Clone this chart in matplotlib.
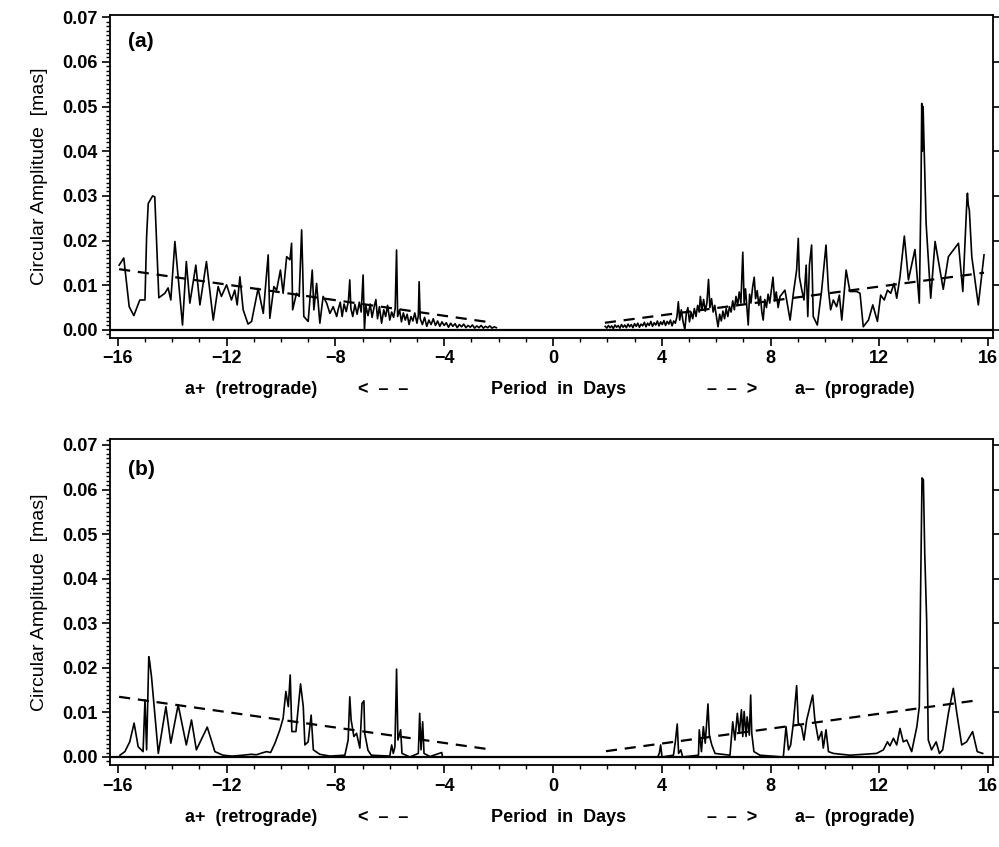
import numpy as np
import matplotlib.pyplot as plt
from matplotlib.ticker import MultipleLocator

plt.rcParams['font.family'] = ['Liberation Sans', 'DejaVu Sans']
plt.rcParams['font.weight'] = 'bold'

# (period [days], circular amplitude [mas]) -- panel (a), retrograde side
a_retro = [(-15.95, 0.0145), (-15.78, 0.0161), (-15.58, 0.0052), (-15.41, 0.0032),
           (-15.19, 0.0067), (-15.00, 0.0067), (-14.94, 0.0209), (-14.88, 0.0283),
           (-14.72, 0.0300), (-14.64, 0.0298), (-14.58, 0.0209), (-14.49, 0.0072),
           (-14.27, 0.0082), (-14.15, 0.0094), (-14.05, 0.0067), (-13.90, 0.0198),
           (-13.62, 0.0011), (-13.48, 0.0153), (-13.35, 0.0060), (-13.13, 0.0145),
           (-12.98, 0.0056), (-12.74, 0.0153), (-12.49, 0.0022), (-12.31, 0.0097),
           (-12.19, 0.0075), (-12.00, 0.0101), (-11.82, 0.0067), (-11.70, 0.0089),
           (-11.61, 0.0056), (-11.51, 0.0119), (-11.39, 0.0045), (-11.21, 0.0013),
           (-11.08, 0.0019), (-10.84, 0.0093), (-10.65, 0.0037), (-10.47, 0.0168),
           (-10.41, 0.0026), (-10.26, 0.0097), (-10.16, 0.0089), (-10.02, 0.0134),
           (-9.92, 0.0082), (-9.79, 0.0164), (-9.67, 0.0157), (-9.61, 0.0194),
           (-9.57, 0.0045), (-9.43, 0.0082), (-9.33, 0.0075), (-9.24, 0.0224),
           (-9.20, 0.0134), (-9.16, 0.0030), (-9.00, 0.0019), (-8.90, 0.0097),
           (-8.85, 0.0134), (-8.79, 0.0045), (-8.69, 0.0104), (-8.57, 0.0015),
           (-8.45, 0.0075), (-8.32, 0.0060), (-8.20, 0.0037), (-8.08, 0.0052),
           (-7.95, 0.0030), (-7.90, 0.0045), (-7.82, 0.0062), (-7.75, 0.0030),
           (-7.68, 0.0058), (-7.60, 0.0041), (-7.52, 0.0065), (-7.47, 0.0112),
           (-7.43, 0.0048), (-7.36, 0.0030), (-7.28, 0.0057), (-7.20, 0.0035),
           (-7.12, 0.0062), (-7.05, 0.0040), (-6.98, 0.0123), (-6.93, 0.0000),
           (-6.88, 0.0055), (-6.80, 0.0032), (-6.72, 0.0058), (-6.65, 0.0028),
           (-6.58, 0.0050), (-6.51, 0.0068), (-6.45, 0.0025), (-6.38, 0.0052),
           (-6.30, 0.0015), (-6.22, 0.0045), (-6.15, 0.0030), (-6.08, 0.0055),
           (-6.00, 0.0022), (-5.93, 0.0040), (-5.86, 0.0028), (-5.80, 0.0048),
           (-5.75, 0.0179), (-5.71, 0.0030), (-5.64, 0.0045), (-5.57, 0.0018),
           (-5.50, 0.0038), (-5.43, 0.0022), (-5.36, 0.0035), (-5.29, 0.0012),
           (-5.22, 0.0030), (-5.15, 0.0020), (-5.08, 0.0038), (-5.00, 0.0015),
           (-4.95, 0.0032), (-4.92, 0.0108), (-4.88, 0.0025), (-4.80, 0.0012),
           (-4.72, 0.0028), (-4.64, 0.0008), (-4.56, 0.0022), (-4.48, 0.0012),
           (-4.40, 0.0025), (-4.32, 0.0010), (-4.24, 0.0020), (-4.16, 0.0008),
           (-4.08, 0.0018), (-4.00, 0.0010), (-3.92, 0.0016), (-3.84, 0.0006),
           (-3.76, 0.0015), (-3.68, 0.0008), (-3.60, 0.0014), (-3.52, 0.0005),
           (-3.44, 0.0012), (-3.36, 0.0007), (-3.28, 0.0013), (-3.20, 0.0005),
           (-3.12, 0.0010), (-3.04, 0.0006), (-2.96, 0.0011), (-2.88, 0.0004),
           (-2.80, 0.0009), (-2.72, 0.0005), (-2.64, 0.0010), (-2.56, 0.0004),
           (-2.48, 0.0008), (-2.40, 0.0005), (-2.32, 0.0009), (-2.24, 0.0004),
           (-2.16, 0.0007), (-2.08, 0.0005)]

# panel (a), prograde side
a_pro = [(1.92, 0.0008), (1.98, 0.0004), (2.04, 0.0010), (2.10, 0.0005), (2.16, 0.0009),
         (2.22, 0.0003), (2.28, 0.0011), (2.34, 0.0006), (2.40, 0.0010), (2.46, 0.0004),
         (2.52, 0.0012), (2.58, 0.0006), (2.64, 0.0011), (2.70, 0.0005), (2.76, 0.0013),
         (2.82, 0.0007), (2.88, 0.0012), (2.94, 0.0005), (3.00, 0.0014), (3.06, 0.0008),
         (3.12, 0.0015), (3.18, 0.0006), (3.24, 0.0013), (3.30, 0.0009), (3.36, 0.0017),
         (3.42, 0.0007), (3.48, 0.0015), (3.54, 0.0010), (3.60, 0.0019), (3.66, 0.0008),
         (3.72, 0.0016), (3.78, 0.0011), (3.84, 0.0020), (3.90, 0.0009), (3.96, 0.0018),
         (4.02, 0.0012), (4.08, 0.0021), (4.14, 0.0010), (4.20, 0.0019), (4.26, 0.0013),
         (4.32, 0.0022), (4.38, 0.0009), (4.44, 0.0020), (4.50, 0.0015), (4.56, 0.0030),
         (4.61, 0.0063), (4.66, 0.0022), (4.72, 0.0045), (4.78, 0.0020), (4.85, 0.0000),
         (4.90, 0.0035), (4.96, 0.0050), (5.02, 0.0018), (5.08, 0.0040), (5.14, 0.0025),
         (5.20, 0.0048), (5.26, 0.0030), (5.32, 0.0055), (5.38, 0.0040), (5.42, 0.0075),
         (5.48, 0.0045), (5.54, 0.0068), (5.60, 0.0042), (5.66, 0.0060), (5.72, 0.0113),
         (5.77, 0.0050), (5.83, 0.0070), (5.89, 0.0040), (5.95, 0.0055), (6.01, 0.0030),
         (6.07, 0.0007), (6.13, 0.0035), (6.19, 0.0020), (6.25, 0.0042), (6.31, 0.0025),
         (6.37, 0.0048), (6.43, 0.0030), (6.49, 0.0052), (6.55, 0.0040), (6.61, 0.0065),
         (6.67, 0.0045), (6.73, 0.0075), (6.79, 0.0055), (6.85, 0.0085), (6.91, 0.0060),
         (6.98, 0.0174), (7.03, 0.0060), (7.08, 0.0092), (7.13, 0.0050), (7.18, 0.0011),
         (7.23, 0.0080), (7.28, 0.0060), (7.34, 0.0095), (7.40, 0.0118), (7.45, 0.0070),
         (7.51, 0.0088), (7.57, 0.0055), (7.63, 0.0075), (7.68, 0.0040), (7.73, 0.0022),
         (7.79, 0.0068), (7.85, 0.0050), (7.91, 0.0080), (7.97, 0.0060), (8.03, 0.0090),
         (8.09, 0.0118), (8.15, 0.0065), (8.21, 0.0085), (8.28, 0.0050), (8.35, 0.0075),
         (8.53, 0.0089), (8.72, 0.0022), (8.84, 0.0082), (8.96, 0.0134), (9.02, 0.0205),
         (9.06, 0.0119), (9.15, 0.0089), (9.23, 0.0067), (9.31, 0.0145), (9.37, 0.0030),
         (9.43, 0.0145), (9.51, 0.0190), (9.57, 0.0030), (9.72, 0.0011), (9.88, 0.0089),
         (10.04, 0.0190), (10.13, 0.0089), (10.21, 0.0045), (10.31, 0.0067), (10.43, 0.0052),
         (10.53, 0.0078), (10.62, 0.0022), (10.78, 0.0134), (10.92, 0.0086), (11.17, 0.0086),
         (11.29, 0.0082), (11.41, 0.0007), (11.60, 0.0022), (11.76, 0.0056), (11.93, 0.0019),
         (12.05, 0.0078), (12.18, 0.0067), (12.30, 0.0089), (12.42, 0.0082), (12.54, 0.0104),
         (12.64, 0.0071), (12.76, 0.0119), (12.92, 0.0210), (13.07, 0.0112), (13.31, 0.0180),
         (13.47, 0.0060), (13.53, 0.0300), (13.56, 0.0507), (13.58, 0.0400), (13.61, 0.0500),
         (13.64, 0.0425), (13.72, 0.0239), (13.89, 0.0071), (14.05, 0.0198), (14.35, 0.0091),
         (14.54, 0.0164), (14.91, 0.0194), (15.07, 0.0086), (15.22, 0.0290), (15.24, 0.0306),
         (15.27, 0.0280), (15.31, 0.0268), (15.40, 0.0164), (15.64, 0.0056), (15.85, 0.0168)]

# panel (b), retrograde side
b_retro = [(-15.92, 0.0004), (-15.74, 0.0012), (-15.56, 0.0034), (-15.40, 0.0076),
           (-15.25, 0.0023), (-15.07, 0.0012), (-15.00, 0.0128), (-14.94, 0.0016),
           (-14.86, 0.0225), (-14.83, 0.0215), (-14.76, 0.0180), (-14.51, 0.0008),
           (-14.23, 0.0113), (-14.05, 0.0031), (-13.78, 0.0117), (-13.48, 0.0027),
           (-13.29, 0.0083), (-13.11, 0.0016), (-12.71, 0.0067), (-12.43, 0.0012),
           (-12.13, 0.0004), (-11.80, 0.0002), (-11.40, 0.0004), (-11.10, 0.0006),
           (-10.90, 0.0005), (-10.70, 0.0009), (-10.53, 0.0012), (-10.38, 0.0010),
           (-10.22, 0.0031), (-10.04, 0.0061), (-9.92, 0.0087), (-9.82, 0.0147),
           (-9.73, 0.0113), (-9.66, 0.0184), (-9.60, 0.0057), (-9.45, 0.0057),
           (-9.28, 0.0164), (-9.18, 0.0113), (-9.12, 0.0027), (-9.00, 0.0034),
           (-8.89, 0.0094), (-8.81, 0.0016), (-8.57, 0.0006), (-8.20, 0.0002),
           (-7.65, 0.0004), (-7.53, 0.0038), (-7.47, 0.0135), (-7.42, 0.0083),
           (-7.32, 0.0046), (-7.22, 0.0053), (-7.10, 0.0020), (-7.02, 0.0120),
           (-6.95, 0.0126), (-6.92, 0.0053), (-6.80, 0.0015), (-6.68, 0.0004),
           (-6.00, 0.0002), (-5.93, 0.0027), (-5.87, 0.0008), (-5.81, 0.0023),
           (-5.75, 0.0197), (-5.70, 0.0038), (-5.60, 0.0061), (-5.55, 0.0008),
           (-5.26, 0.0000), (-4.95, 0.0008), (-4.90, 0.0098), (-4.85, 0.0016),
           (-4.79, 0.0079), (-4.74, 0.0008), (-4.52, 0.0001), (-4.09, 0.0010),
           (-4.06, 0.0000), (-2.00, 0.0000)]

# panel (b), prograde side
b_pro = [(2.00, 0.0000), (3.85, 0.0000), (3.91, 0.0008), (3.96, 0.0027), (4.01, 0.0000),
         (4.43, 0.0004), (4.50, 0.0034), (4.57, 0.0074), (4.62, 0.0008), (4.70, 0.0016),
         (4.77, 0.0000), (5.35, 0.0004), (5.38, 0.0061), (5.46, 0.0012), (5.53, 0.0068),
         (5.60, 0.0031), (5.70, 0.0119), (5.75, 0.0049), (5.84, 0.0027), (5.96, 0.0008),
         (6.51, 0.0004), (6.61, 0.0079), (6.69, 0.0038), (6.78, 0.0098), (6.85, 0.0053),
         (6.93, 0.0106), (6.98, 0.0046), (7.03, 0.0102), (7.10, 0.0046), (7.14, 0.0090),
         (7.22, 0.0049), (7.27, 0.0139), (7.31, 0.0053), (7.39, 0.0012), (7.61, 0.0004),
         (8.47, 0.0000), (8.57, 0.0068), (8.66, 0.0016), (8.74, 0.0027), (8.84, 0.0076),
         (8.96, 0.0160), (9.02, 0.0076), (9.14, 0.0068), (9.23, 0.0038), (9.33, 0.0083),
         (9.55, 0.0139), (9.63, 0.0083), (9.76, 0.0038), (9.88, 0.0057), (9.94, 0.0020),
         (10.04, 0.0061), (10.13, 0.0012), (10.31, 0.0008), (10.92, 0.0004), (11.90, 0.0008),
         (12.15, 0.0016), (12.30, 0.0034), (12.39, 0.0025), (12.52, 0.0042), (12.64, 0.0027),
         (12.76, 0.0064), (12.88, 0.0034), (13.01, 0.0038), (13.19, 0.0012), (13.38, 0.0068),
         (13.47, 0.0113), (13.52, 0.0382), (13.57, 0.0626), (13.62, 0.0622), (13.67, 0.0457),
         (13.74, 0.0308), (13.80, 0.0038), (13.92, 0.0016), (14.09, 0.0034), (14.21, 0.0008),
         (14.33, 0.0016), (14.54, 0.0098), (14.72, 0.0154), (14.85, 0.0098), (15.03, 0.0027),
         (15.21, 0.0034), (15.43, 0.0057), (15.60, 0.0012), (15.80, 0.0008)]

# linear trend lines (endpoints)
a_trend_retro = [(-15.95, 0.0136), (-2.20, 0.0016)]
a_trend_pro = [(1.91, 0.0016), (15.85, 0.0128)]
b_trend_retro = [(-15.95, 0.0135), (-2.20, 0.0016)]
b_trend_pro = [(1.95, 0.0013), (15.70, 0.0128)]

x_ticks = [-16, -12, -8, -4, 0, 4, 8, 12, 16]
y_ticks = [0.00, 0.01, 0.02, 0.03, 0.04, 0.05, 0.06, 0.07]

fig = plt.figure(figsize=(9.99, 8.47), dpi=100)
ax_a = fig.add_axes([0.110, 0.601, 0.884, 0.381])
ax_b = fig.add_axes([0.110, 0.0968, 0.884, 0.385])

panels = [
    (ax_a, '(a)', a_retro, a_pro, a_trend_retro, a_trend_pro, 0.07045, 0.920),
    (ax_b, '(b)', b_retro, b_pro, b_trend_retro, b_trend_pro, 0.07135, 0.905),
]

for ax, tag, retro, pro, tr, tp, ytop, tag_y in panels:
    ax.axhline(0, color='black', lw=1.6)
    for seg in (retro, pro):
        px, py = np.array(seg).T
        ax.plot(px, py, color='black', lw=1.2)
    for seg in (tr, tp):
        px, py = np.array(seg).T
        ax.plot(px, py, color='black', lw=1.6, dashes=(5, 3.5))

    ax.set_xlim(-16.29, 16.18)
    ax.set_ylim(-0.0018, ytop)
    ax.set_xticks(x_ticks)
    ax.set_xticklabels([f'{t:d}'.replace('-', '\u2212') for t in x_ticks])
    ax.xaxis.set_minor_locator(MultipleLocator(1))
    ax.set_yticks(y_ticks)
    ax.set_yticklabels([f'{t:.2f}' for t in y_ticks])
    ax.yaxis.set_minor_locator(MultipleLocator(0.001))
    ax.tick_params(axis='both', which='major', direction='out', length=6,
                   width=1.2, labelsize=13, pad=3)
    ax.tick_params(axis='both', which='minor', direction='out', length=3, width=1)
    ax.tick_params(axis='y', which='both', right=True)
    ax.tick_params(axis='y', which='minor', right=False)
    for sp in ax.spines.values():
        sp.set_linewidth(1.3)

    ax.set_ylabel('Circular Amplitude  [mas]', fontsize=14, labelpad=10)
    ax.text(0.020, tag_y, tag, transform=ax.transAxes, fontsize=15,
            ha='left', va='center')

    # direction labels under the period axis
    trans = ax.get_xaxis_transform()
    for xc, s in [(-11.1, 'a+  (retrograde)'), (-6.25, '<  \u2013  \u2013'),
                  (0.2, 'Period  in  Days'), (6.6, '\u2013  \u2013  >'),
                  (11.1, 'a\u2013  (prograde)')]:
        ax.text(xc, -0.16, s, transform=trans, ha='center', va='center',
                fontsize=13)

fig.savefig('out.png', dpi=100)
